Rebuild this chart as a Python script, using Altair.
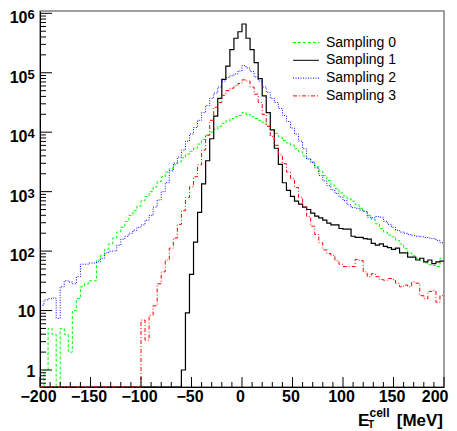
import altair as alt
import pandas as pd

# ---------------- data (log10 of bin entries; None = empty bin)
X_MIN, X_MAX, BIN_W = -200, 200, 4
bin_lo = list(range(X_MIN, X_MAX, BIN_W))  # 100 bins of 4 MeV

s0_log10 = [None, 0.00, 0.70, 0.60, None, 0.70, 0.60, 0.30, 1.00, 1.20,
            1.40, 1.45, 1.50, 1.50, 1.85, 1.93, 2.03, 2.12, 2.22, 2.32,
            2.40, 2.50, 2.60, 2.68, 2.76, 2.85, 2.92, 3.00, 3.08, 3.17,
            3.25, 3.33, 3.39, 3.45, 3.50, 3.57, 3.63, 3.68, 3.73, 3.80,
            3.88, 3.95, 4.00, 4.05, 4.10, 4.15, 4.19, 4.23, 4.26, 4.28,
            4.33, 4.30, 4.26, 4.23, 4.20, 4.16, 4.10, 4.04, 3.98, 3.92,
            3.86, 3.82, 3.78, 3.72, 3.67, 3.60, 3.55, 3.50, 3.42, 3.35,
            3.27, 3.19, 3.11, 3.05, 2.98, 2.93, 2.88, 2.84, 2.78, 2.72,
            2.67, 2.60, 2.53, 2.46, 2.38, 2.32, 2.27, 2.24, 2.18, 2.12,
            2.04, 1.97, 1.92, 1.88, 1.84, 1.80, 1.77, 1.76, 1.74, 1.88]

s1_log10 = [None] * 35 + [0.00, 0.96, 1.61, 2.15, 2.65,
            3.13, 3.52, 3.89, 4.27, 4.57, 4.89, 5.11, 5.39, 5.58, 5.69,
            5.82, 5.58, 5.39, 5.17, 4.90, 4.61, 4.33, 4.04, 3.73, 3.46,
            3.15, 3.02, 2.92, 2.84, 2.79, 2.74, 2.70, 2.64, 2.59, 2.56,
            2.52, 2.47, 2.44, 2.44, 2.38, 2.37, 2.37, 2.25, 2.23, 2.23,
            2.21, 2.20, 2.13, 2.10, 2.12, 2.08, 2.06, 2.03, 2.05, 1.97,
            1.97, 1.90, 1.90, 1.85, 1.88, 1.82, 1.85, 1.79, 1.82, 1.83]

s2_log10 = [1.09, 1.18, 1.20, 1.21, 0.87, 1.40, 1.50, 1.48, 1.45, 1.57,
            1.78, 1.78, 1.80, 1.80, 1.82, 1.88, 1.97, 2.00, 2.00, 2.10,
            2.20, 2.25, 2.30, 2.35, 2.40, 2.44, 2.52, 2.60, 2.74, 2.86,
            3.00, 3.15, 3.35, 3.48, 3.58, 3.70, 3.85, 3.97, 4.08, 4.20,
            4.33, 4.45, 4.57, 4.66, 4.76, 4.86, 4.92, 4.95, 4.98, 5.03,
            5.12, 5.08, 5.02, 4.93, 4.86, 4.76, 4.67, 4.57, 4.50, 4.40,
            4.28, 4.18, 4.07, 3.97, 3.85, 3.72, 3.55, 3.49, 3.40, 3.27,
            3.18, 3.10, 3.03, 2.97, 2.91, 2.85, 2.78, 2.73, 2.72, 2.69,
            2.67, 2.57, 2.56, 2.58, 2.57, 2.50, 2.45, 2.40, 2.35, 2.32,
            2.30, 2.28, 2.26, 2.25, 2.24, 2.23, 2.22, 2.21, 2.18, 2.14]

s3_log10 = [None] * 25 + [0.84, 0.50, 0.92, 1.08, 1.45,
            1.65, 1.85, 2.05, 2.22, 2.45, 2.68, 2.90, 3.08, 3.25, 3.45,
            3.70, 3.95, 4.20, 4.42, 4.50, 4.62, 4.70, 4.74, 4.78, 4.82,
            4.88, 4.86, 4.76, 4.64, 4.50, 4.30, 4.10, 3.93, 3.78, 3.62,
            3.47, 3.33, 3.22, 3.07, 2.90, 2.74, 2.58, 2.42, 2.28, 2.14,
            2.02, 1.96, 1.93, 1.84, 1.78, 1.74, 1.74, 1.74, 1.86, 1.84,
            1.65, 1.57, 1.62, 1.57, 1.52, 1.51, 1.54, 1.52, 1.46, 1.40,
            1.43, 1.40, 1.48, 1.46, 1.25, 1.20, 1.32, 1.34, 1.14, 1.25]

series_names = ["Sampling 0", "Sampling 1", "Sampling 2", "Sampling 3"]
series_data = [s0_log10, s1_log10, s2_log10, s3_log10]
series_colors = ["#00ff00", "#000000", "#0000ff", "#ff0000"]
series_dash = [[3, 2], None, [1, 1.5], [4, 2, 1, 2]]
series_width = [1, 1.2, 1, 1]

x_major = [-200, -150, -100, -50, 0, 50, 100, 150, 200]
x_minor = [v for v in range(-190, 200, 10) if v % 50 != 0]
y_major = [1, 10, 100, 1000, 10000, 100000, 1000000]
y_minor = [0.6, 0.7, 0.8, 0.9] + [m * 10 ** k for k in range(6) for m in range(2, 10)]
ylab_plain_v = [1, 10]
ylab_plain_t = ["1", "10"]
ylab_pow_v = [100, 1000, 10000, 100000, 1000000]
ylab_pow_exp = ["2", "3", "4", "5", "6"]

# ---------------- layout
W, H = 404, 376
DECADE_PX = 59.45
Y_MIN = 10 ** (-17.0 / DECADE_PX)
Y_MAX = 10 ** (6 + 2.3 / DECADE_PX)
FONT = "Liberation Sans"

xscale = alt.Scale(domain=[X_MIN, X_MAX], nice=False, zero=False)
yscale = alt.Scale(type="log", domain=[Y_MIN, Y_MAX], nice=False)

XAXIS = alt.Axis(values=x_major, title=None, ticks=False, grid=False,
                 labelFont=FONT, labelFontSize=16, labelFontWeight="bold",
                 labelColor="black", labelPadding=1,
                 labelAlign={"condition": {"test": "datum.value == 200", "value": "right"},
                             "value": "center"},
                 labelOffset={"condition": {"test": "datum.value == 200", "value": 4},
                              "value": -2},
                 labelFlush=False, labelOverlap=False,
                 domainColor="black", domainWidth=1)
YAXIS = alt.Axis(labels=False, ticks=False, grid=False, title=None,
                 domainColor="black", domainWidth=1)


def X(field):
    return alt.X(field, scale=xscale, axis=XAXIS, title=None)


def Y(field):
    return alt.Y(field, scale=yscale, axis=YAXIS, title=None)


def hist_df(logs):
    rows = []
    for e, l in zip(bin_lo, logs):
        v = Y_MIN if l is None else max(10 ** l, Y_MIN)
        rows.append({"E": e, "N": v})
    rows.append({"E": X_MAX, "N": rows[-1]["N"]})
    return pd.DataFrame(rows)


layers = []
for logs, color, dash, sw in zip(series_data, series_colors, series_dash, series_width):
    mk = dict(color=color, strokeWidth=sw, interpolate="step-after")
    if dash is not None:
        mk["strokeDash"] = dash
    layers.append(alt.Chart(hist_df(logs)).mark_line(**mk).encode(x=X("E:Q"), y=Y("N:Q")))


# inward ticks
def yticks(vals, length):
    return alt.Chart(pd.DataFrame({"v": vals})).mark_rule(color="black", strokeWidth=1).encode(
        y=Y("v:Q"), x=alt.value(0), x2=alt.value(length))


def xticks(vals, length):
    return alt.Chart(pd.DataFrame({"v": vals})).mark_rule(color="black", strokeWidth=1).encode(
        x=X("v:Q"), y=alt.value(H), y2=alt.value(H - length))


layers += [yticks(y_major, 12), yticks(y_minor, 6), xticks(x_major, 10), xticks(x_minor, 5)]

# y tick labels
plain = alt.Chart(pd.DataFrame({"v": ylab_plain_v, "t": ylab_plain_t})).mark_text(
    align="right", baseline="alphabetic", font=FONT, fontSize=16, fontWeight="bold",
    color="black", dy=6.7).encode(y=Y("v:Q"), x=alt.value(-4.5), text="t:N")
pow_df = pd.DataFrame({"v": ylab_pow_v, "b": ["10"] * len(ylab_pow_v), "e": ylab_pow_exp})
pow_base = alt.Chart(pow_df).mark_text(
    align="right", baseline="alphabetic", font=FONT, fontSize=16, fontWeight="bold",
    color="black", dy=10).encode(y=Y("v:Q"), x=alt.value(-12.5), text="b:N")
pow_exp = alt.Chart(pow_df).mark_text(
    align="left", baseline="alphabetic", font=FONT, fontSize=13, fontWeight="bold",
    color="black", dy=6).encode(y=Y("v:Q"), x=alt.value(-12.5), text="e:N")
layers += [plain, pow_base, pow_exp]

# legend
for i, (name, color, dash) in enumerate(zip(series_names, series_colors, series_dash)):
    ly = 31.5 + 17.8 * i
    mk = dict(color=color, strokeWidth=1)
    if dash is not None:
        mk["strokeDash"] = dash
    ldf = pd.DataFrame({"n": [name]})
    layers.append(alt.Chart(ldf).mark_rule(**mk).encode(
        x=alt.value(253), x2=alt.value(279), y=alt.value(ly)))
    layers.append(alt.Chart(ldf).mark_text(
        align="left", baseline="middle", font=FONT, fontSize=14, color="black").encode(
        x=alt.value(286), y=alt.value(ly), text="n:N"))


# x-axis title: E_T^cell [MeV]
def tpart(txt, x, y, size, align="left"):
    return alt.Chart(pd.DataFrame({"t": [txt]})).mark_text(
        align=align, baseline="alphabetic", font=FONT, fontSize=size, fontWeight="bold",
        color="black").encode(x=alt.value(x), y=alt.value(y), text="t:N")


layers += [tpart("E", 318, 415, 17), tpart("cell", 329.5, 406, 12),
           tpart("T", 328, 417, 10), tpart("[MeV]", 403, 415, 17, align="right")]

chart = alt.layer(*layers).properties(
    width=W, height=H,
    autosize=alt.AutoSizeParams(type="none"),
    padding={"left": 32, "top": 3, "right": 5, "bottom": 44},
    background="white",
).configure_view(stroke="#808080", strokeWidth=1.5)

chart.save("out.html", embed_options={"renderer": "svg", "actions": False})
